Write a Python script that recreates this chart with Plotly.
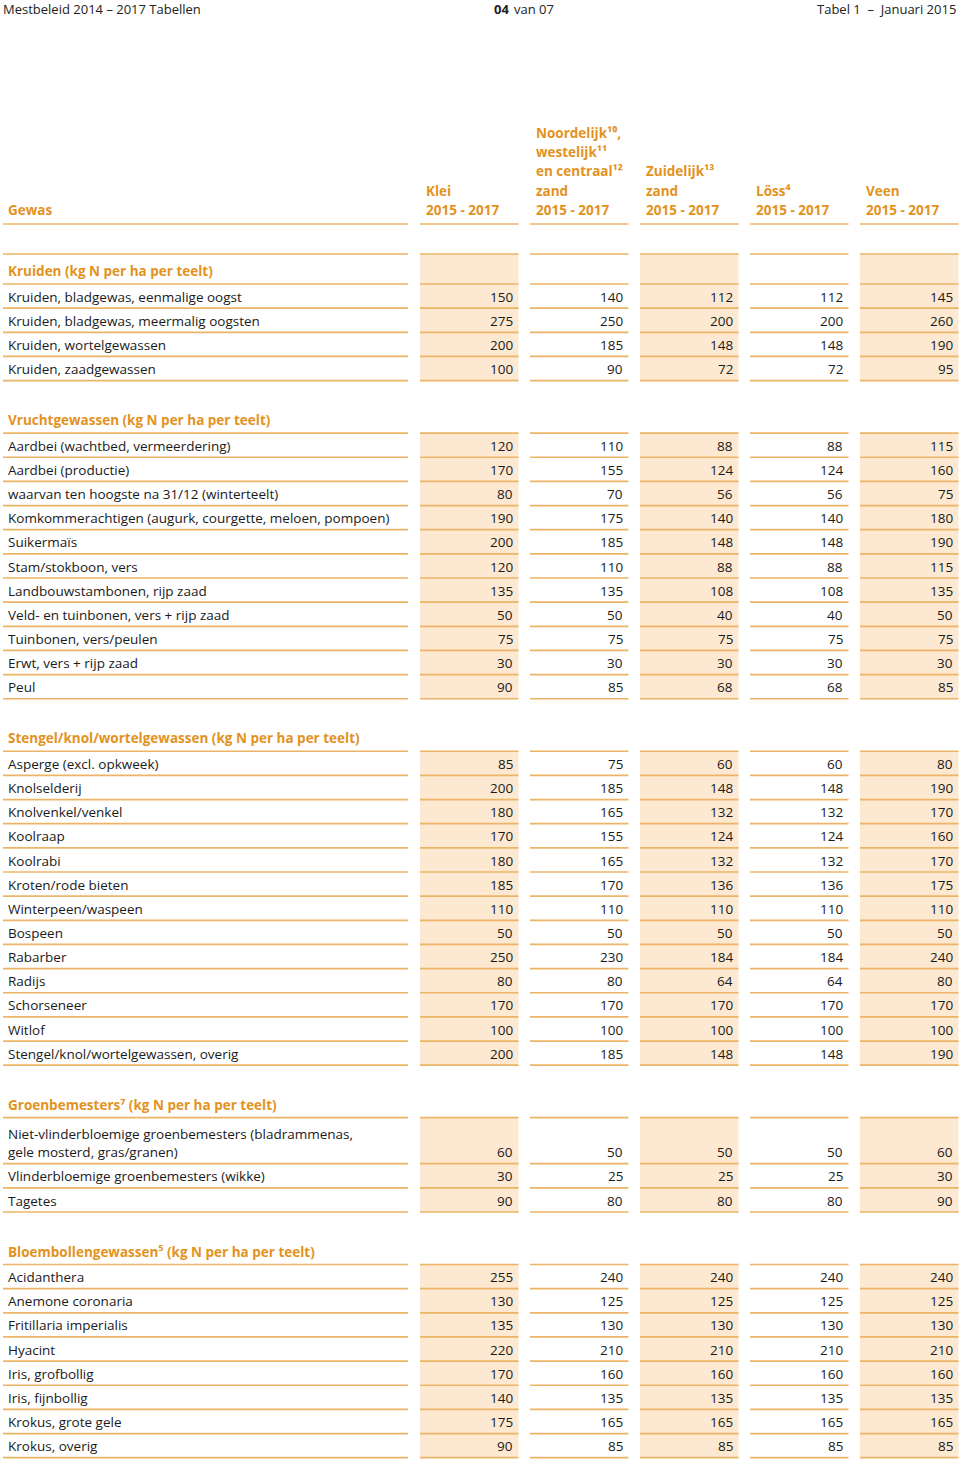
import plotly.graph_objects as go

# ---------------- data ----------------
page_left = "Mestbeleid 2014 – 2017 Tabellen"
page_mid_bold = "04"
page_mid = "van 07"
page_right = "Tabel 1  –  Januari 2015"

gewas_header = "Gewas"
column_headers = [
    ["Klei", "2015 - 2017"],
    ["Noordelijk¹⁰,", "westelijk¹¹", "en centraal¹²", "zand", "2015 - 2017"],
    ["Zuidelijk¹³", "zand", "2015 - 2017"],
    ["Löss⁴", "2015 - 2017"],
    ["Veen", "2015 - 2017"],
]
shaded_columns = [True, False, True, False, True]

section_titles = [
    "Kruiden (kg N per ha per teelt)",
    "Vruchtgewassen (kg N per ha per teelt)",
    "Stengel/knol/wortelgewassen (kg N per ha per teelt)",
    "Groenbemesters⁷ (kg N per ha per teelt)",
    "Bloembollengewassen⁵ (kg N per ha per teelt)",
]

kruiden_labels = [
    "Kruiden, bladgewas, eenmalige oogst",
    "Kruiden, bladgewas, meermalig oogsten",
    "Kruiden, wortelgewassen",
    "Kruiden, zaadgewassen",
]
kruiden_values = [
    [150, 140, 112, 112, 145],
    [275, 250, 200, 200, 260],
    [200, 185, 148, 148, 190],
    [100, 90, 72, 72, 95],
]

vrucht_labels = [
    "Aardbei (wachtbed, vermeerdering)",
    "Aardbei (productie)",
    "waarvan ten hoogste na 31/12 (winterteelt)",
    "Komkommerachtigen (augurk, courgette, meloen, pompoen)",
    "Suikermaïs",
    "Stam/stokboon, vers",
    "Landbouwstambonen, rijp zaad",
    "Veld- en tuinbonen, vers + rijp zaad",
    "Tuinbonen, vers/peulen",
    "Erwt, vers + rijp zaad",
    "Peul",
]
vrucht_values = [
    [120, 110, 88, 88, 115],
    [170, 155, 124, 124, 160],
    [80, 70, 56, 56, 75],
    [190, 175, 140, 140, 180],
    [200, 185, 148, 148, 190],
    [120, 110, 88, 88, 115],
    [135, 135, 108, 108, 135],
    [50, 50, 40, 40, 50],
    [75, 75, 75, 75, 75],
    [30, 30, 30, 30, 30],
    [90, 85, 68, 68, 85],
]

stengel_labels = [
    "Asperge (excl. opkweek)",
    "Knolselderij",
    "Knolvenkel/venkel",
    "Koolraap",
    "Koolrabi",
    "Kroten/rode bieten",
    "Winterpeen/waspeen",
    "Bospeen",
    "Rabarber",
    "Radijs",
    "Schorseneer",
    "Witlof",
    "Stengel/knol/wortelgewassen, overig",
]
stengel_values = [
    [85, 75, 60, 60, 80],
    [200, 185, 148, 148, 190],
    [180, 165, 132, 132, 170],
    [170, 155, 124, 124, 160],
    [180, 165, 132, 132, 170],
    [185, 170, 136, 136, 175],
    [110, 110, 110, 110, 110],
    [50, 50, 50, 50, 50],
    [250, 230, 184, 184, 240],
    [80, 80, 64, 64, 80],
    [170, 170, 170, 170, 170],
    [100, 100, 100, 100, 100],
    [200, 185, 148, 148, 190],
]

groen_labels = [
    ["Niet-vlinderbloemige groenbemesters (bladrammenas,", "gele mosterd, gras/granen)"],
    ["Vlinderbloemige groenbemesters (wikke)"],
    ["Tagetes"],
]
groen_values = [
    [60, 50, 50, 50, 60],
    [30, 25, 25, 25, 30],
    [90, 80, 80, 80, 90],
]

bloem_labels = [
    "Acidanthera",
    "Anemone coronaria",
    "Fritillaria imperialis",
    "Hyacint",
    "Iris, grofbollig",
    "Iris, fijnbollig",
    "Krokus, grote gele",
    "Krokus, overig",
]
bloem_values = [
    [255, 240, 240, 240, 240],
    [130, 125, 125, 125, 125],
    [135, 130, 130, 130, 130],
    [220, 210, 210, 210, 210],
    [170, 160, 160, 160, 160],
    [140, 135, 135, 135, 135],
    [175, 165, 165, 165, 165],
    [90, 85, 85, 85, 85],
]

sections = [
    (section_titles[0], [[l] for l in kruiden_labels], kruiden_values),
    (section_titles[1], [[l] for l in vrucht_labels], vrucht_values),
    (section_titles[2], [[l] for l in stengel_labels], stengel_values),
    (section_titles[3], groen_labels, groen_values),
    (section_titles[4], [[l] for l in bloem_labels], bloem_values),
]

# ---------------- style / geometry ----------------
W, H = 960, 1465
FONT = "Open Sans"
FS = 13.5
ORANGE = "#E3921E"
LINEC = "#EBB466"
SHADE = "#FDE9D2"
TXT = "#1A1A1A"
GRAY = "#222222"

GEWAS_X0, GEWAS_X1 = 3, 408
COL_X0, COL_PITCH, COL_W = 420, 110, 98.5
ROW_H = 24.15
TWO_LINE_H = 46
LINE_W = 1.7
LABEL_X = 6

HEADER_LAST_Y = 210
HEADER_LINE_SP = 19.3
HEADER_RULE_Y = 224
FIRST_TOP = 254
FIRST_HEAD_H = 30

col_spans = [(GEWAS_X0, GEWAS_X1)] + [
    (COL_X0 + i * COL_PITCH, COL_X0 + i * COL_PITCH + COL_W) for i in range(5)
]

shapes = []
annotations = []


def ann(x, y, text, color=TXT, bold=False, anchor="left", size=FS):
    annotations.append(dict(
        x=x, y=y, xref="x", yref="y", text=text, showarrow=False,
        xanchor=anchor, yanchor="middle",
        font=dict(family=FONT, size=size, color=color,
                  weight="bold" if bold else "normal"),
    ))


def hline(y):
    for x0, x1 in col_spans:
        shapes.append(dict(type="line", xref="x", yref="y", x0=x0, x1=x1, y0=y, y1=y,
                           line=dict(color=LINEC, width=LINE_W), layer="above"))


def shade(y0, y1):
    for i, on in enumerate(shaded_columns):
        if on:
            x0, x1 = col_spans[i + 1]
            shapes.append(dict(type="rect", xref="x", yref="y", x0=x0, x1=x1, y0=y0, y1=y1,
                               fillcolor=SHADE, line=dict(width=0), layer="below"))


# page top bar
ann(1, 9, page_left, color=GRAY, size=13)
ann(511, 9, page_mid_bold, color=GRAY, bold=True, anchor="right", size=13)
ann(512, 9, page_mid, color=GRAY, anchor="left", size=13)
ann(958, 9, page_right, color=GRAY, anchor="right", size=13)

# column header
ann(LABEL_X, HEADER_LAST_Y, gewas_header, color=ORANGE, bold=True)
for i, lines in enumerate(column_headers):
    n = len(lines)
    for j, t in enumerate(lines):
        ann(col_spans[i + 1][0] + 4, HEADER_LAST_Y - (n - 1 - j) * HEADER_LINE_SP, t,
            color=ORANGE, bold=True)
hline(HEADER_RULE_Y)

# sections
prev_bottom = None
for s_idx, (title, labels, values) in enumerate(sections):
    if s_idx == 0:
        top = FIRST_TOP
        hline(top)
        ann(LABEL_X, top + FIRST_HEAD_H / 2 + 1.5, title, color=ORANGE, bold=True)
        shade(top, top + FIRST_HEAD_H)
        top += FIRST_HEAD_H
    else:
        ann(LABEL_X, prev_bottom + 39.5, title, color=ORANGE, bold=True)
        top = prev_bottom + 52.5
    hline(top)
    y = top
    for lab, vals in zip(labels, values):
        h = ROW_H if len(lab) == 1 else TWO_LINE_H
        bottom = y + h
        shade(y, bottom)
        text_y = bottom - 11.5
        for k, line in enumerate(lab):
            ann(LABEL_X, text_y - (len(lab) - 1 - k) * 18, line)
        for c, v in enumerate(vals):
            ann(col_spans[c + 1][1] - 4, text_y, str(v), anchor="right")
        hline(bottom)
        y = bottom
    prev_bottom = y

fig = go.Figure()
fig.add_trace(go.Scatter(x=[0, W], y=[0, H], mode="markers", marker=dict(opacity=0),
                         hoverinfo="skip", showlegend=False))
fig.update_layout(
    width=W, height=H,
    margin=dict(l=0, r=0, t=0, b=0),
    paper_bgcolor="white", plot_bgcolor="white",
    xaxis=dict(range=[0, W], visible=False, fixedrange=True),
    yaxis=dict(range=[H, 0], visible=False, fixedrange=True),
    shapes=shapes, annotations=annotations,
    showlegend=False,
)
fig.write_html(
    "out.html",
    config={"displayModeBar": False},
    post_script="document.body.style.margin='0';document.body.style.overflow='hidden';",
)
